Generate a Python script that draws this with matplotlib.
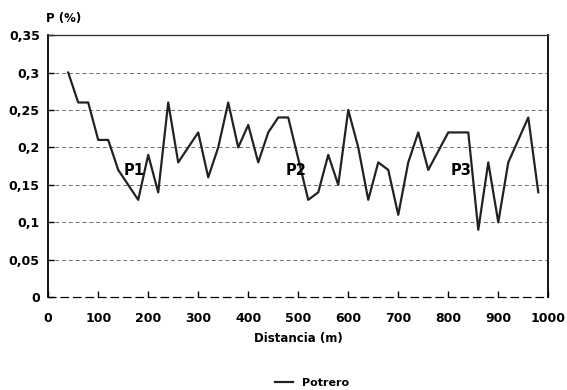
import matplotlib
matplotlib.use('Agg')
import matplotlib.pyplot as plt
import numpy as np

# distancia (m) y P (%)
distancia = [40, 60, 80, 100, 120, 140, 160, 180, 200, 220, 240, 260, 280, 300, 320,
             340, 360, 380, 400, 420, 440, 460, 480, 500, 520, 540, 560, 580, 600, 620,
             640, 660, 680, 700, 720, 740, 760, 780, 800, 820, 840, 860, 880, 900, 920,
             940, 960, 980]
potrero = [0.30, 0.26, 0.26, 0.21, 0.21, 0.17, 0.15, 0.13, 0.19, 0.14, 0.26, 0.18, 0.20, 0.22, 0.16,
           0.20, 0.26, 0.20, 0.23, 0.18, 0.22, 0.24, 0.24, 0.185, 0.13, 0.14, 0.19, 0.15, 0.25, 0.20,
           0.13, 0.18, 0.17, 0.11, 0.18, 0.22, 0.17, 0.195, 0.22, 0.22, 0.22, 0.09, 0.18, 0.10, 0.18,
           0.21, 0.24, 0.14]

# etiquetas de tramos
tramos = ['P1', 'P2', 'P3']
tramos_x = [172, 496, 826]
tramos_y = [0.169, 0.169, 0.169]

yticks = [0, 0.05, 0.1, 0.15, 0.2, 0.25, 0.3, 0.35]
ytick_labels = ['0', '0,05', '0,1', '0,15', '0,2', '0,25', '0,3', '0,35']
xticks = list(range(0, 1001, 100))

plt.rcParams['font.family'] = ['DejaVu Sans']
plt.rcParams['font.weight'] = 'bold'

fig = plt.figure(figsize=(5.67, 3.9), dpi=100)
ax = fig.add_axes([0.085, 0.238, 0.882, 0.672])

for y in yticks[1:-1]:
    ax.axhline(y, color='#707070', lw=0.7, ls=(0, (4, 3)), zorder=1)

ax.plot(distancia, potrero, color='#222222', lw=1.6, label='Potrero', zorder=3)

for lab, tx, ty in zip(tramos, tramos_x, tramos_y):
    ax.text(tx, ty, lab, fontsize=10.5, fontweight='bold', ha='center', va='center', zorder=4)

ax.set_xlim(0, 1000)
ax.set_ylim(0, 0.35)
ax.set_xticks(xticks)
ax.set_yticks(yticks)
ax.set_yticklabels(ytick_labels)
ax.tick_params(axis='both', labelsize=9, direction='in', length=4, width=1)
ax.tick_params(axis='x', pad=11)
ax.tick_params(axis='y', pad=6)

ax.spines['left'].set_linewidth(1.3)
ax.spines['right'].set_linewidth(1.3)
ax.spines['top'].set_linewidth(1.0)
ax.spines['top'].set_color('#333333')
ax.spines['bottom'].set_linestyle((0, (6, 4)))
ax.spines['bottom'].set_linewidth(0.9)

ax.set_xlabel('Distancia (m)', fontsize=8.5, fontweight='bold', labelpad=5)
ax.text(-0.005, 1.04, 'P (%)', transform=ax.transAxes, fontsize=8.5, fontweight='bold',
        ha='left', va='bottom')

fig.legend(loc='lower center', bbox_to_anchor=(0.55, -0.02), frameon=False,
           handlelength=1.6, prop={'weight': 'bold', 'size': 8})

fig.savefig('out.png', dpi=100)
